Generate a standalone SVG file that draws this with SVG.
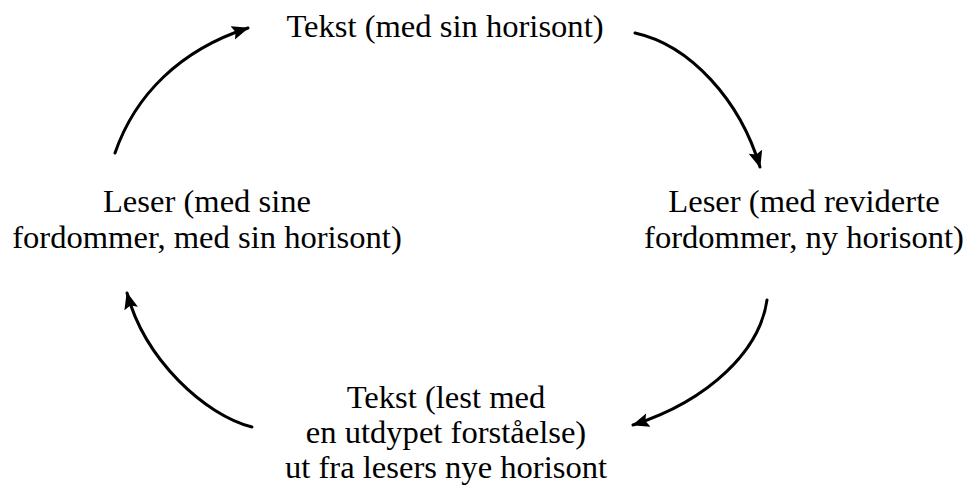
<svg xmlns="http://www.w3.org/2000/svg" width="965" height="491" viewBox="0 0 965 491">
<style>
  .lbl { font-family: "Liberation Serif", "Times New Roman", serif; font-size: 32.6px; fill: #000; text-anchor: middle; }
  .conn { fill: none; stroke: #000; stroke-width: 3; stroke-linecap: round; marker-end: url(#ah); }
</style>
<defs>
  <marker id="ah" markerUnits="userSpaceOnUse" markerWidth="18" markerHeight="16" refX="16" refY="7" orient="auto">
    <path d="M0,0 L17,7 L0,14 L3,7 z" fill="#000"/>
  </marker>
</defs>
<rect width="965" height="491" fill="#fff"/>
<g id="connectors">
  <path class="conn" d="M115,153 C135,95 180,50 248,28"/>
  <path class="conn" d="M635,33 C690,45 740,100 760,167"/>
  <path class="conn" d="M767,300 C760,350 710,400 633,425"/>
  <path class="conn" d="M252,427 C205,415 145,360 127,293"/>
</g>
<g id="node-tekst">
  <text class="lbl" x="445" y="37">Tekst (med sin horisont)</text>
</g>
<g id="node-leser-venstre">
  <text class="lbl" x="207" y="212">Leser (med sine</text>
  <text class="lbl" x="207" y="248">fordommer, med sin horisont)</text>
</g>
<g id="node-leser-hoyre">
  <text class="lbl" x="804" y="212">Leser (med reviderte</text>
  <text class="lbl" x="804" y="248">fordommer, ny horisont)</text>
</g>
<g id="node-tekst-ny">
  <text class="lbl" x="446" y="408">Tekst (lest med</text>
  <text class="lbl" x="446" y="443">en utdypet forståelse)</text>
  <text class="lbl" x="446" y="478">ut fra lesers nye horisont</text>
</g>
</svg>
